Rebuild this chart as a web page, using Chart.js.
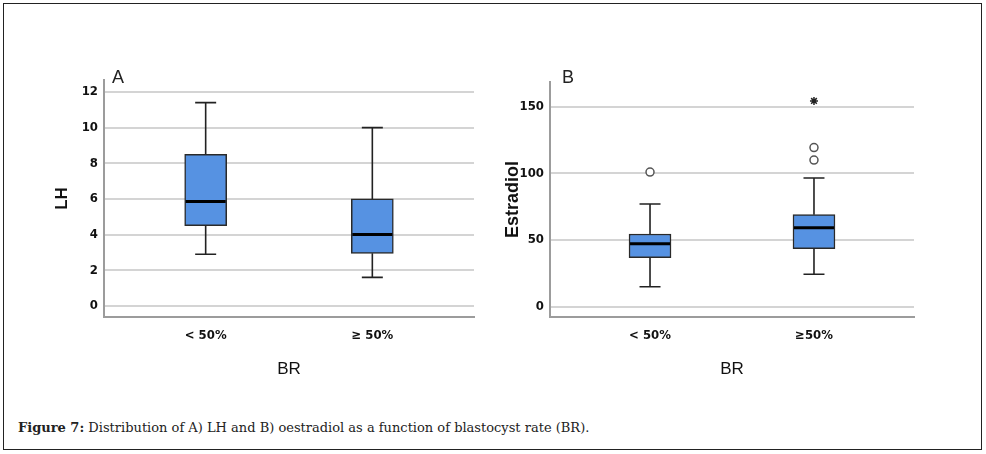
<!DOCTYPE html>
<html>
<head>
<meta charset="utf-8">
<script src="https://cdn.jsdelivr.net/npm/chart.js@4.4.1/dist/chart.umd.min.js"></script>
<style>
  body { margin: 0; background: #fff; }
  #page { position: relative; width: 986px; height: 454px; }
  #frame { position: absolute; left: 3px; top: 3px; width: 977px; height: 445px; border: 1.5px solid #222; }
  canvas { position: absolute; top: 0; }
  .panel { position: absolute; top: 68px; font: 18px 'Liberation Sans', Arial, sans-serif; line-height: 18px; color: #222; }
  #caption { position: absolute; left: 18px; top: 420px; font: 13px 'DejaVu Serif', 'Liberation Serif', serif; color: #222; }
</style>
</head>
<body>
<div id="page">
  <div id="frame"></div>
  <canvas id="lhChart" width="490" height="400" style="left:0px"></canvas>
  <canvas id="e2Chart" width="490" height="400" style="left:490px"></canvas>
  <div class="panel" style="left:112px">A</div>
  <div class="panel" style="left:562px">B</div>
  <div id="caption"><b>Figure 7:</b> Distribution of A) LH and B) oestradiol as a function of blastocyst rate (BR).</div>
</div>
<script>
// grupos (tasa de blastocistos)
const lhCategories = ['< 50%', '≥ 50%'];
const e2Categories = ['< 50%', '≥50%'];

// LH: resumen de cada caja
const lhMin = [2.9, 1.6];
const lhQ1 = [4.5, 2.95];
const lhMedian = [5.85, 4.0];
const lhQ3 = [8.5, 6.0];
const lhMax = [11.4, 10.0];
const lhTicks = [0, 2, 4, 6, 8, 10, 12];

// Estradiol: resumen de cada caja
const e2Min = [15, 24.3];
const e2Q1 = [36.8, 43.5];
const e2Median = [47.3, 59.3];
const e2Q3 = [54.5, 69];
const e2Max = [77, 96.5];
const e2Ticks = [0, 50, 100, 150];
// valores atipicos (circulo) y extremos (estrella), por grupo
const e2OutlierGroup = [0, 1, 1];
const e2OutlierValue = [101, 110, 119.3];
const e2ExtremeGroup = [1];
const e2ExtremeValue = [154.3];

const tickFont = { family: "'Liberation Sans Narrow', 'DejaVu Sans Condensed', sans-serif", size: 13, weight: 'bold' };

// dibuja bigotes, topes y mediana usando las escalas del grafico
const whiskers = (mins, medians, maxs, q1s, q3s) => ({
    id: 'whiskers',
    afterDatasetsDraw(chart) {
        const { ctx, scales: { x, y } } = chart;
        const boxes = chart.getDatasetMeta(0).data;
        ctx.save();
        mins.forEach((mn, i) => {
            const px = x.getPixelForValue(i + 1);
            const half = boxes[i].width / 2;
            ctx.strokeStyle = '#222';
            ctx.lineWidth = 1.6;
            ctx.beginPath();
            ctx.moveTo(px, y.getPixelForValue(q3s[i]));
            ctx.lineTo(px, y.getPixelForValue(maxs[i]));
            ctx.moveTo(px, y.getPixelForValue(q1s[i]));
            ctx.lineTo(px, y.getPixelForValue(mn));
            ctx.moveTo(px - half / 2, y.getPixelForValue(maxs[i]));
            ctx.lineTo(px + half / 2, y.getPixelForValue(maxs[i]));
            ctx.moveTo(px - half / 2, y.getPixelForValue(mn));
            ctx.lineTo(px + half / 2, y.getPixelForValue(mn));
            ctx.stroke();
            ctx.strokeStyle = '#000';
            ctx.lineWidth = 3;
            ctx.beginPath();
            ctx.moveTo(px - half + 1, y.getPixelForValue(medians[i]));
            ctx.lineTo(px + half - 1, y.getPixelForValue(medians[i]));
            ctx.stroke();
        });
        ctx.restore();
    }
});

function buildChart(id, opts) {
    const ctx = document.getElementById(id).getContext('2d');
    return new Chart(ctx, {
        type: 'bar',
        data: {
            datasets: [{
                data: opts.categories.map((c, i) => ({ x: i + 1, y: [opts.q1[i], opts.q3[i]] })),
                backgroundColor: '#5692e2',
                borderColor: '#2a2a2a',
                borderWidth: 1.5,
                borderSkipped: false,
                barThickness: 42
            }].concat(opts.extra)
        },
        options: {
            responsive: false,
            animation: false,
            devicePixelRatio: 1,
            layout: { padding: opts.padding },
            plugins: { legend: { display: false }, tooltip: { enabled: false } },
            scales: {
                x: {
                    type: 'linear',
                    min: 0.39,
                    max: 2.61,
                    offset: false,
                    grid: { display: false, drawTicks: false },
                    border: { color: '#9c9c9c', width: 2 },
                    afterBuildTicks: s => { s.ticks = opts.categories.map((c, i) => ({ value: i + 1 })); },
                    afterFit: s => { s.height = 83; },
                    ticks: {
                        font: tickFont, color: '#111', padding: 11, maxRotation: 0, autoSkip: false,
                        callback: v => opts.categories[v - 1]
                    },
                    title: {
                        display: true, text: 'BR', color: '#111',
                        font: { family: "'Liberation Sans', Arial, sans-serif", size: 17 },
                        padding: { bottom: 20 }
                    }
                },
                y: {
                    type: 'linear',
                    min: opts.yMin,
                    max: opts.yMax,
                    grid: { color: '#d4d4d4', lineWidth: 2, drawTicks: false },
                    border: { color: '#9c9c9c', width: 2 },
                    afterBuildTicks: s => { s.ticks = opts.ticks.map(v => ({ value: v })); },
                    afterFit: s => { s.width = opts.yWidth; },
                    ticks: { font: tickFont, color: '#111', padding: 6 },
                    title: {
                        display: true, text: opts.yTitle, color: '#111',
                        font: { family: "'Liberation Sans', Arial, sans-serif", size: opts.yTitleSize, weight: 'bold' },
                        padding: { top: opts.yTitlePad }
                    }
                }
            }
        },
        plugins: [whiskers(opts.min, opts.median, opts.max, opts.q1, opts.q3)]
    });
}

buildChart('lhChart', {
    categories: lhCategories,
    min: lhMin, q1: lhQ1, median: lhMedian, q3: lhQ3, max: lhMax,
    ticks: lhTicks, yMin: -0.62, yMax: 12.67,
    yTitle: 'LH', yTitleSize: 17, yTitlePad: 52, yWidth: 104,
    padding: { left: 0, top: 80, right: 16, bottom: 0 },
    extra: []
});

buildChart('e2Chart', {
    categories: e2Categories,
    min: e2Min, q1: e2Q1, median: e2Median, q3: e2Q3, max: e2Max,
    ticks: e2Ticks, yMin: -7.7, yMax: 168.5,
    yTitle: 'Estradiol', yTitleSize: 18, yTitlePad: 12, yWidth: 60,
    padding: { left: 0, top: 82, right: 66, bottom: 0 },
    extra: [{
        type: 'scatter',
        data: e2OutlierGroup.map((g, i) => ({ x: g + 1, y: e2OutlierValue[i] })),
        pointStyle: 'circle', pointRadius: 4,
        pointBackgroundColor: '#fff', pointBorderColor: '#555', pointBorderWidth: 1.5
    }, {
        type: 'scatter',
        data: e2ExtremeGroup.map((g, i) => ({ x: g + 1, y: e2ExtremeValue[i] })),
        pointStyle: 'star', pointRadius: 4,
        pointBackgroundColor: '#222', pointBorderColor: '#222', pointBorderWidth: 1.5
    }]
});
</script>
</body>
</html>
